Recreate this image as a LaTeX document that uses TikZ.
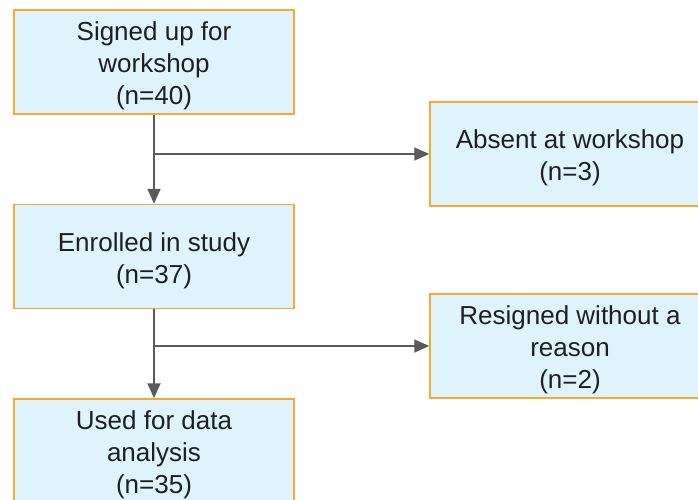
\documentclass[tikz,border=0pt]{standalone}
\usepackage{fontspec}
\setmainfont{Liberation Sans}
\usepackage{xcolor}
\usetikzlibrary{arrows.meta, positioning}
\definecolor{boxfill}{HTML}{DFF3FC}
\definecolor{boxline}{HTML}{F8A832}
\definecolor{arrowgray}{HTML}{5A5A5A}
\newcommand{\topgap}{\rule{0pt}{27pt}}

\begin{document}
\begin{tikzpicture}[x=1pt, y=-1pt,
  box/.style={draw=boxline, line width=1.5pt, fill=boxfill, minimum width=280pt,
    minimum height=104pt, inner sep=0pt, align=center, text=black!88,
    font=\fontsize{26}{32}\selectfont},
  flow/.style={draw=arrowgray, line width=1.8pt, -{Triangle[length=15pt,width=13pt]}}]
  \useasboundingbox (0,0) rectangle (698,500);
  \clip (0,0) rectangle (698,500);

  % Boxes on the main line
  \node[box] (signup) at (154,62) {\topgap Signed up for\\workshop\\(n=40)};
  \node[box] (enrolled) at (154,256.5) {\topgap Enrolled in study\\(n=37)};
  \node[box] (analysis) at (154,451) {\topgap Used for data\\analysis\\(n=35)};

  % Boxes for the drop-outs
  \node[box] (absent) at (570,154) {\topgap Absent at workshop\\(n=3)};
  \node[box] (resigned) at (570,346) {\topgap Resigned without a\\reason\\(n=2)};

  % Split points
  \coordinate (split1) at (signup.south |- absent.west);
  \coordinate (split2) at (enrolled.south |- resigned.west);

  % Arrows
  \draw[flow] (signup) -- (enrolled);
  \draw[flow] (split1) -- (absent);
  \draw[flow] (enrolled) -- (analysis);
  \draw[flow] (split2) -- (resigned);
\end{tikzpicture}
\end{document}
